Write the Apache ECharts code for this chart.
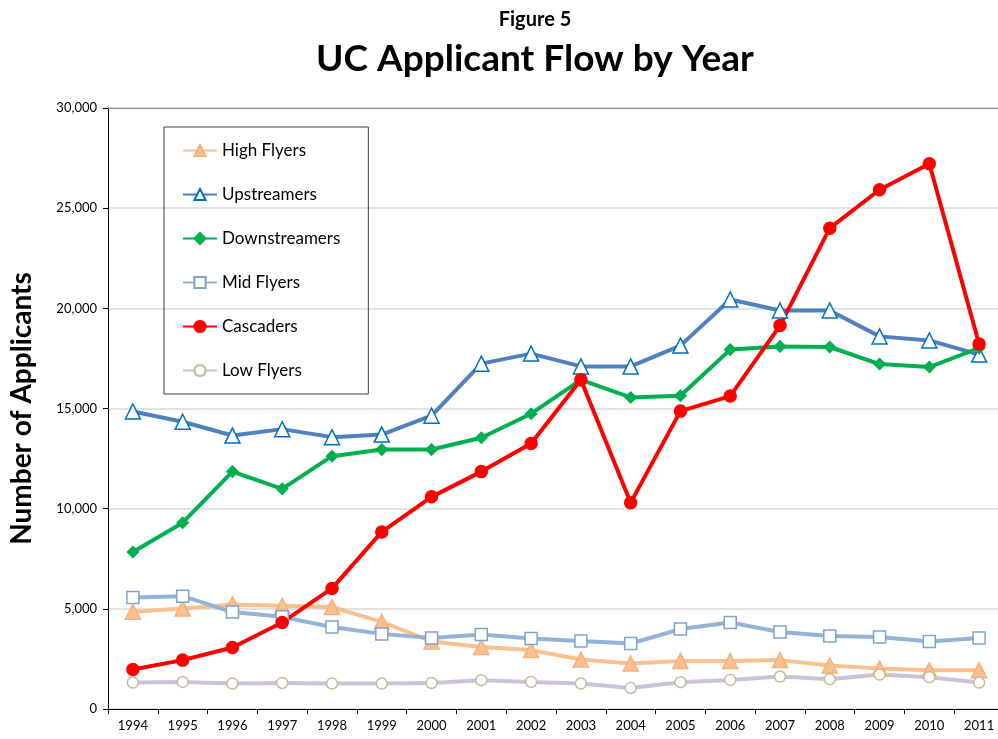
<!DOCTYPE html>
<html>
<head>
<meta charset="utf-8">
<script src="https://cdn.jsdelivr.net/npm/echarts@6/dist/echarts.min.js"></script>
<style>
  html, body { margin: 0; padding: 0; background: #fff; overflow: hidden; }
  #chart { width: 1004px; height: 739px; }
</style>
</head>
<body>
<div id="chart"></div>
<script>
var years = ['1994', '1995', '1996', '1997', '1998', '1999', '2000', '2001', '2002',
             '2003', '2004', '2005', '2006', '2007', '2008', '2009', '2010', '2011'];
var highFlyers = [4850, 5020, 5220, 5150, 5090, 4350, 3370, 3090, 2940, 2470, 2270, 2400, 2400, 2440, 2170, 2020, 1940, 1940];
var upstreamers = [14850, 14340, 13650, 13970, 13570, 13700, 14640, 17240, 17740, 17100, 17100, 18140, 20440, 19890, 19890, 18600, 18400, 17690];
var downstreamers = [7840, 9300, 11850, 10990, 12620, 12950, 12950, 13540, 14740, 16430, 15550, 15640, 17940, 18100, 18070, 17220, 17070, 18020];
var midFlyers = [5570, 5630, 4840, 4600, 4090, 3750, 3550, 3720, 3520, 3400, 3270, 3990, 4320, 3840, 3640, 3590, 3370, 3550];
var cascaders = [1970, 2440, 3070, 4320, 6020, 8840, 10590, 11850, 13250, 16430, 10300, 14870, 15620, 19140, 24000, 25920, 27220, 18220];
var lowFlyers = [1320, 1350, 1270, 1300, 1270, 1270, 1300, 1440, 1350, 1270, 1050, 1340, 1450, 1620, 1490, 1720, 1590, 1320];
var yTicks = [0, 5000, 10000, 15000, 20000, 25000, 30000];

var chart = echarts.init(document.getElementById('chart'));
var font = 'Lato, "Open Sans", sans-serif';

function line(name, data, color, symbol, size, fill, border) {
  return {
    name: name,
    type: 'line',
    data: data,
    symbol: symbol,
    symbolSize: size,
    lineStyle: { color: color, width: 4 },
    itemStyle: { color: fill, borderColor: border, borderWidth: 1.5 },
    emphasis: { disabled: true },
    animation: false
  };
}

var option = {
  backgroundColor: '#fff',
  title: [{
    text: 'Figure 5',
    left: 530,
    textAlign: 'center',
    top: 5,
    textStyle: { fontFamily: font, fontSize: 20, fontWeight: 'bold', color: '#000' }
  }, {
    text: 'UC Applicant Flow by Year',
    left: 530,
    textAlign: 'center',
    top: 36,
    textStyle: { fontFamily: font, fontSize: 37, fontWeight: 'bold', color: '#000' }
  }],
  legend: {
    orient: 'vertical',
    left: 164,
    top: 127,
    padding: [15, 28, 15, 18],
    itemWidth: 34,
    itemHeight: 14,
    itemGap: 27,
    borderColor: '#404040',
    borderWidth: 1,
    textStyle: { fontFamily: font, fontSize: 17, color: '#000' },
    data: ['High Flyers', 'Upstreamers', 'Downstreamers', 'Mid Flyers', 'Cascaders', 'Low Flyers']
  },
  grid: { left: 107, right: 0, top: 108, bottom: 30, containLabel: false },
  xAxis: [{
    type: 'category',
    data: years,
    boundaryGap: true,
    axisLine: { lineStyle: { color: '#000' } },
    axisTick: { show: true, interval: 0, length: 5, lineStyle: { color: '#000' } },
    axisLabel: { interval: 0, fontFamily: font, fontSize: 13, color: '#000', margin: 10 }
  }, {
    type: 'category',
    data: years,
    position: 'top',
    axisLine: { lineStyle: { color: '#8c8c8c', width: 1 } },
    axisTick: { show: false },
    axisLabel: { show: false }
  }],
  yAxis: {
    type: 'value',
    min: yTicks[0],
    max: yTicks[yTicks.length - 1],
    interval: 5000,
    name: 'Number of Applicants',
    nameLocation: 'middle',
    nameGap: 72,
    nameTextStyle: { fontFamily: font, fontSize: 28, fontWeight: 'bold', color: '#000' },
    axisLine: { show: true, lineStyle: { color: '#000' } },
    axisTick: { show: true, length: 5, lineStyle: { color: '#000' } },
    axisLabel: {
      fontFamily: font, fontSize: 13, color: '#000', margin: 11,
      formatter: function (v) { return v.toLocaleString('en-US'); }
    },
    splitLine: { lineStyle: { color: '#d9d9d9', width: 1.5 } }
  },
  series: [
    line('High Flyers', highFlyers, '#FAC090', 'triangle', 15, '#FAC090', '#F5B27A'),
    line('Upstreamers', upstreamers, '#4F81BD', 'triangle', 15, '#fff', '#0070C0'),
    line('Downstreamers', downstreamers, '#00B050', 'diamond', 11, '#00B050', '#00B050'),
    line('Mid Flyers', midFlyers, '#95B3D7', 'rect', 12, '#fff', '#7FA3CF'),
    line('Cascaders', cascaders, '#FF0000', 'circle', 12, '#FF0000', '#FF0000'),
    line('Low Flyers', lowFlyers, '#CCC1DA', 'circle', 11, '#fff', '#C4BD97')
  ]
};

chart.setOption(option);
</script>
</body>
</html>
